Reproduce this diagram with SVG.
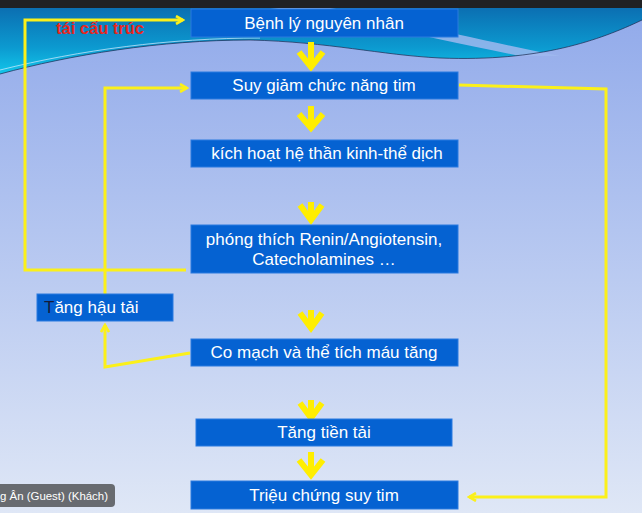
<svg xmlns="http://www.w3.org/2000/svg" width="642" height="513" viewBox="0 0 642 513">
<defs>
<linearGradient id="bg" x1="0" y1="0" x2="0" y2="1">
<stop offset="0" stop-color="#90a9ea"/>
<stop offset="0.45" stop-color="#b3c5f0"/>
<stop offset="1" stop-color="#dfe7f6"/>
</linearGradient>
<linearGradient id="teal" x1="0" y1="0" x2="0" y2="1">
<stop offset="0" stop-color="#0b6fb2"/>
<stop offset="0.6" stop-color="#0c9ad0"/>
<stop offset="1" stop-color="#12c6ea"/>
</linearGradient>
<marker id="ah" viewBox="0 0 10 10" refX="8" refY="5" markerWidth="10" markerHeight="10" markerUnits="userSpaceOnUse" orient="auto">
<path d="M1,1 L8,5 L1,9" fill="none" stroke="#fbf01a" stroke-width="2.6"/>
</marker>
<style>
.box{fill:#0562d2;stroke:#2a7ae0;stroke-width:1}
.t{font-family:"Liberation Sans",Arial,sans-serif;font-size:17px;fill:#ffffff;text-anchor:middle}
.con{fill:none;stroke:#fbf01a;stroke-width:3;stroke-linejoin:miter}
.chev{fill:none;stroke:#ffee00;stroke-width:6;stroke-linejoin:miter;stroke-miterlimit:10}
</style>
</defs>
<g id="background">
<rect x="0" y="0" width="642" height="513" fill="url(#bg)"/>
<path d="M0,8 L642,8 L642,20 C600,40 540,62 440,58 C380,55 330,42 250,40 C160,40 70,55 0,74 Z" fill="url(#teal)"/>
<path d="M270,8 C340,16 420,36 520,56 L560,56 C470,38 380,16 330,8 Z" fill="#9fb8ee" opacity="0.85"/>
<path d="M0,74 C70,55 160,40 250,40 C330,42 380,55 440,58 C540,62 600,40 642,20" fill="none" stroke="#1a2a50" stroke-width="1" opacity="0.7"/>
<path d="M0,70 C80,50 170,38 260,38" fill="none" stroke="#d8ecff" stroke-width="1" opacity="0.7"/>
<rect x="0" y="0" width="642" height="8" fill="#202124"/>
</g>
<g id="connectors">
<path class="con" d="M186,270 L25,270 L25,20 L183,20" marker-end="url(#ah)"/>
<path class="con" d="M105,294 L105,88 L187,88" marker-end="url(#ah)"/>
<path class="con" d="M190,353 L105,367 L105,325" marker-end="url(#ah)"/>
<path class="con" d="M459,85 L606,89 L606,497 L469,497" marker-end="url(#ah)"/>
<path class="chev" d="M311,42 L311,66 M299,52 L311,67 L323,52"/>
<path class="chev" d="M311,106 L311,127 M299,114 L311,128 L323,114"/>
<path class="chev" d="M311,202 L311,219 M300,205 L311,220 L322,205"/>
<path class="chev" d="M311,310 L311,327 M300,313 L311,328 L322,313"/>
<path class="chev" d="M311,400 L311,417 M300,403 L311,418 L322,403"/>
<path class="chev" d="M311,452 L311,474 M299,460 L311,475 L323,460"/>
</g>
<text x="100" y="34" font-family="Liberation Sans,Arial,sans-serif" font-size="16.5" font-weight="bold" fill="#e8261c" text-anchor="middle">tái cấu trúc</text>
<g id="n1"><rect class="box" x="191" y="9" width="267" height="28"/><text class="t" x="324" y="29">Bệnh lý nguyên nhân</text></g>
<g id="n2"><rect class="box" x="191" y="72" width="267" height="27"/><text class="t" x="324" y="91">Suy giảm chức năng tim</text></g>
<g id="n3"><rect class="box" x="191" y="140" width="267" height="27"/><text class="t" x="327" y="159">kích hoạt hệ thần kinh-thể dịch</text></g>
<g id="n4"><rect class="box" x="191" y="225" width="267" height="48"/><text class="t" x="324" y="245">phóng thích Renin/Angiotensin,</text><text class="t" x="324" y="265">Catecholamines …</text></g>
<g id="n5"><rect class="box" x="37" y="294" width="136" height="27"/><text class="t" x="44" y="313" style="text-anchor:start"><tspan fill="#141a3a">T</tspan>ăng hậu tải</text></g>
<g id="n6"><rect class="box" x="191" y="339" width="267" height="27"/><text class="t" x="324" y="358">Co mạch và thể tích máu tăng</text></g>
<g id="n7"><rect class="box" x="196" y="419" width="256" height="27"/><text class="t" x="324" y="438">Tăng tiền tải</text></g>
<g id="n8"><rect class="box" x="191" y="481" width="267" height="28"/><text class="t" x="324" y="501">Triệu chứng suy tim</text></g>
<g id="nametag">
<rect x="-8" y="484" width="123" height="23" rx="4" fill="#686b70"/>
<text x="0" y="500" font-family="Liberation Sans,Arial,sans-serif" font-size="11.5" fill="#ffffff" textLength="108" lengthAdjust="spacingAndGlyphs">g Ân (Guest) (Khách)</text>
</g>
</svg>
